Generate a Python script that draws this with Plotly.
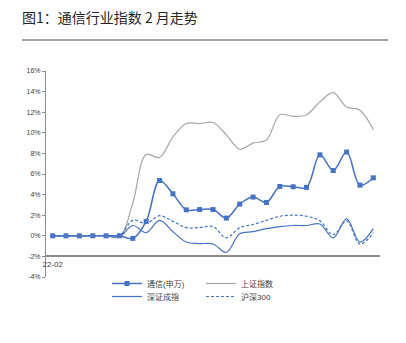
import plotly.graph_objects as go

# Trading-day index for February 2022 and the single date label on the axis
days = list(range(25))
tick_positions = [0]
tick_labels = ["22-02"]

# Cumulative change (%) of each index
telecom_sw = [0.0, 0.0, 0.0, 0.0, 0.0, 0.0, -0.25, 1.4, 5.37, 4.08, 2.52, 2.55, 2.55,
              1.72, 3.08, 3.76, 3.24, 4.79, 4.76, 4.7, 7.86, 6.34, 8.13, 4.92, 5.63]
shanghai = [0.0, 0.0, 0.0, 0.0, 0.0, -0.15, 3.2, 7.9, 7.6, 9.6, 10.9, 10.9, 11.0,
            9.8, 8.4, 9.0, 9.3, 11.75, 11.6, 11.75, 13.0, 13.9, 12.5, 12.2, 10.3]
shenzhen = [0.0, 0.0, 0.0, 0.0, 0.0, -0.1, 1.0, 0.3, 1.5, 0.4, -0.6, -0.75, -0.8,
            -1.6, 0.2, 0.4, 0.7, 0.9, 1.0, 1.0, 1.15, -0.2, 1.65, -0.6, 0.7]
csi300 = [0.0, 0.0, 0.0, 0.0, 0.0, 0.0, 1.5, 1.2, 1.95, 1.4, 0.8, 0.8, 0.9,
          -0.2, 0.8, 1.1, 1.5, 1.9, 2.0, 1.9, 1.45, 0.1, 1.45, -0.8, 0.3]

y_ticks = list(range(-4, 17, 2))

BLUE = "#4472C4"
GRAY = "#A6A6A6"
FONT = "Arial, Liberation Sans, Noto Sans CJK SC"

fig = go.Figure()

fig.add_trace(go.Scatter(
    x=days, y=telecom_sw, name="通信(申万)", mode="lines+markers",
    line=dict(color=BLUE, width=1.5, shape="spline", smoothing=1.0),
    marker=dict(symbol="square", size=5, color=BLUE),
    legend="legend",
))
fig.add_trace(go.Scatter(
    x=days, y=shanghai, name="上证指数", mode="lines",
    line=dict(color=GRAY, width=1.2, shape="spline", smoothing=1.0),
    legend="legend",
))
fig.add_trace(go.Scatter(
    x=days, y=shenzhen, name="深证成指", mode="lines",
    line=dict(color=BLUE, width=1.2, shape="spline", smoothing=1.0),
    legend="legend2",
))
fig.add_trace(go.Scatter(
    x=days, y=csi300, name="沪深300", mode="lines",
    line=dict(color=BLUE, width=1.2, shape="spline", smoothing=1.0, dash="3px,2px"),
    legend="legend2",
))

W, H = 406, 343
L, R, T, B = 46, 26, 71, 66
plot_w = W - L - R
plot_h = H - T - B


def px_to_paper_x(px):
    return (px - L) / plot_w


def px_to_paper_y(py):
    return (H - B - py) / plot_h


legend_common = dict(
    orientation="h", xanchor="left", yanchor="middle",
    font=dict(family=FONT, size=8, color="#404040"),
    bgcolor="rgba(0,0,0,0)", entrywidth=49, itemwidth=30,
    tracegroupgap=0,
)

fig.update_layout(
    width=W, height=H,
    margin=dict(l=L, r=R, t=T, b=B),
    paper_bgcolor="white", plot_bgcolor="white",
    title=dict(
        text="图1：通信行业指数 2 月走势",
        x=22 / W, xref="container", xanchor="left",
        y=1 - 18.5 / H, yref="container", yanchor="middle",
        font=dict(family="Noto Sans CJK SC", size=14, color="#262626"),
    ),
    xaxis=dict(
        range=[-0.5, 24.5], tickmode="array",
        tickvals=tick_positions, ticktext=tick_labels,
        showgrid=False, zeroline=False, showline=True,
        linecolor="#8C8C8C", linewidth=1.5, ticks="",
        anchor="free", position=(-2 - (-4)) / (16 - (-4)),
        tickfont=dict(family=FONT, size=8, color="#404040"),
    ),
    yaxis=dict(
        range=[-4, 16], tickvals=y_ticks,
        ticktext=[f"{v}%" for v in y_ticks],
        showgrid=False, zeroline=False, showline=True,
        linecolor="#8C8C8C", linewidth=1,
        ticks="outside", ticklen=3, tickcolor="#8C8C8C",
        tickfont=dict(family=FONT, size=7, color="#404040"),
    ),
    legend=dict(x=px_to_paper_x(107), y=px_to_paper_y(283.5), **legend_common),
    legend2=dict(x=px_to_paper_x(107), y=px_to_paper_y(296.5), **legend_common),
    shapes=[dict(
        type="line", xref="paper", yref="paper",
        x0=px_to_paper_x(22), x1=px_to_paper_x(388),
        y0=px_to_paper_y(40), y1=px_to_paper_y(40),
        line=dict(color="#A0A0A0", width=2),
    )],
)

fig.write_html("out.html")
